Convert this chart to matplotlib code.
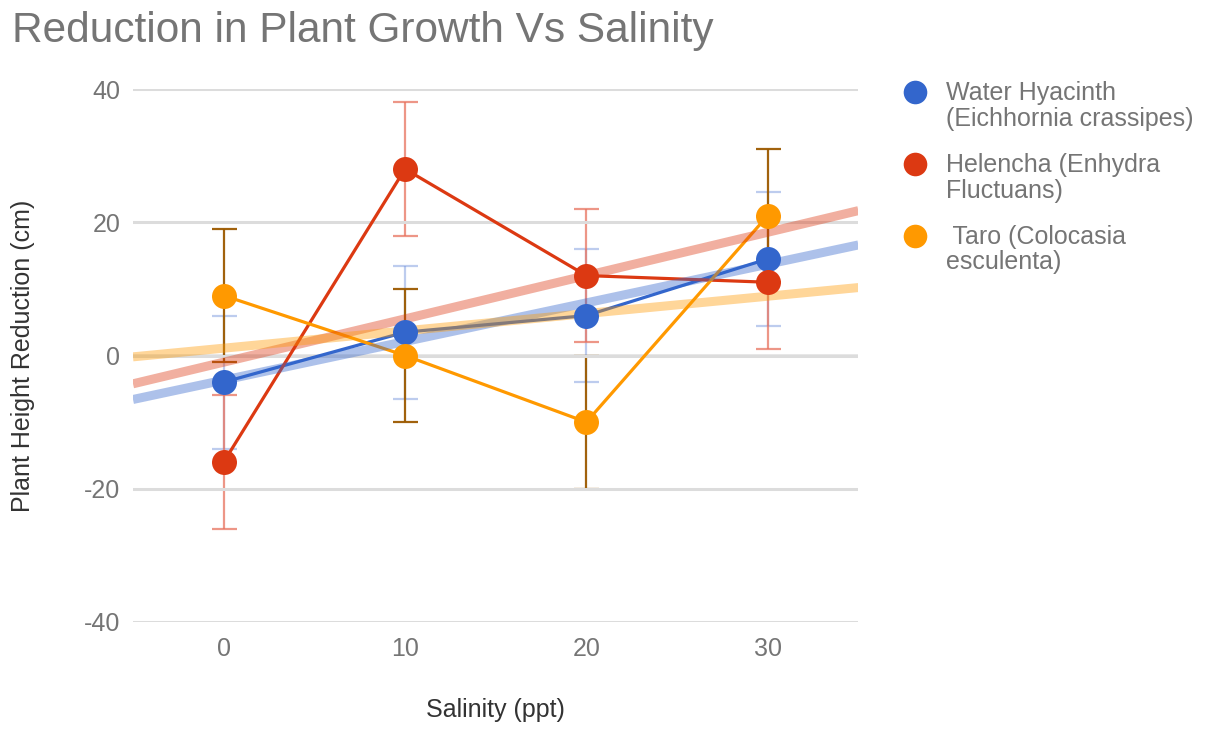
import numpy as np
import matplotlib.pyplot as plt
from matplotlib.lines import Line2D
from matplotlib.legend_handler import HandlerLine2D

plt.rcParams['font.family'] = ['Liberation Sans', 'DejaVu Sans']
plt.rcParams['axes.unicode_minus'] = False

# measurements per salinity level (ppt)
salinity = [0, 10, 20, 30]
hyacinth = [-4, 3.5, 6, 14.5]
helencha = [-16, 28, 12, 11]
taro = [9, 0, -10, 21]
hyacinth_err = [10, 10, 10, 10]
helencha_err = [10, 10, 10, 10]
taro_err = [10, 10, 10, 10]

labels = ['Water Hyacinth\n(Eichhornia crassipes)',
          'Helencha (Enhydra\nFluctuans)',
          ' Taro (Colocasia\nesculenta)']
colors = ['#3366cc', '#dc3912', '#ff9900']
err_colors = [('#6d8fdb', 0.45), ('#e8735f', 0.75), ('#9c5a00', 0.95)]
x_range = [-5, 35]


class DotOnFirstLine(HandlerLine2D):
    # legend dot sits beside the first text line instead of the middle
    def __init__(self, lift, **kw):
        super().__init__(**kw)
        self.lift = lift

    def create_artists(self, legend, orig_handle, xdescent, ydescent,
                       width, height, fontsize, trans):
        artists = super().create_artists(legend, orig_handle, xdescent, ydescent,
                                         width, height, fontsize, trans)
        for a in artists:
            a.set_ydata(np.asarray(a.get_ydata()) + self.lift)
        return artists


fig = plt.figure(figsize=(12.09, 7.30), dpi=100)
ax = fig.add_axes([0.110, 0.148, 0.600, 0.730])

series = [hyacinth, helencha, taro]
errors = [hyacinth_err, helencha_err, taro_err]
for vals, err, c, (ec, ea) in zip(series, errors, colors, err_colors):
    ax.errorbar(salinity, vals, yerr=err, fmt='none', ecolor=ec, alpha=ea,
                elinewidth=1.6, capsize=9, capthick=1.6, zorder=1.5)
    ax.plot(salinity, vals, '-', color=c, lw=2.3, zorder=2)
    coef = np.polyfit(salinity, vals, 1)
    ax.plot(x_range, np.polyval(coef, x_range), '-', color=c, lw=6.5,
            alpha=0.4, solid_capstyle='butt', zorder=3)
    ax.plot(salinity, vals, 'o', color=c, ms=18, mec='none', zorder=4)

ax.set_xlim(x_range)
ax.set_ylim(-40, 40)
ax.set_xticks(salinity)
ax.set_yticks([-40, -20, 0, 20, 40])
ax.grid(axis='y', color='#dcdcdc', lw=2.2, zorder=0)
ax.axhline(0, color='#333333', lw=1.6, zorder=1.2)
for s in ax.spines.values():
    s.set_visible(False)
ax.tick_params(length=0, labelsize=18, labelcolor='#757575')
ax.tick_params(axis='y', pad=9)
ax.tick_params(axis='x', pad=11)

ax.set_xlabel('Salinity (ppt)', fontsize=18, color='#333333')
ax.set_ylabel('Plant Height Reduction (cm)', fontsize=18, color='#333333')
ax.xaxis.set_label_coords(0.5, -0.143)
ax.yaxis.set_label_coords(-0.135, 0.5)

fig.text(12 / 1209, 1 - 42 / 730, 'Reduction in Plant Growth Vs Salinity',
         fontsize=30.5, color='#757575', va='baseline')

handles = [Line2D([], [], ls='none', marker='o', ms=17, color=c, mec='none')
           for c in colors]
leg = ax.legend(handles, labels, loc='upper left',
                bbox_to_anchor=(890 / 1209, 1 - 69 / 730),
                bbox_transform=fig.transFigure, frameon=False, fontsize=18,
                labelcolor='#757575', handlelength=1, handletextpad=0.75,
                borderpad=0, labelspacing=0.9,
                handler_map={Line2D: DotOnFirstLine(10.5)})
for t in leg.get_texts():
    t.set_linespacing(1.07)

fig.savefig('out.png', dpi=100)
